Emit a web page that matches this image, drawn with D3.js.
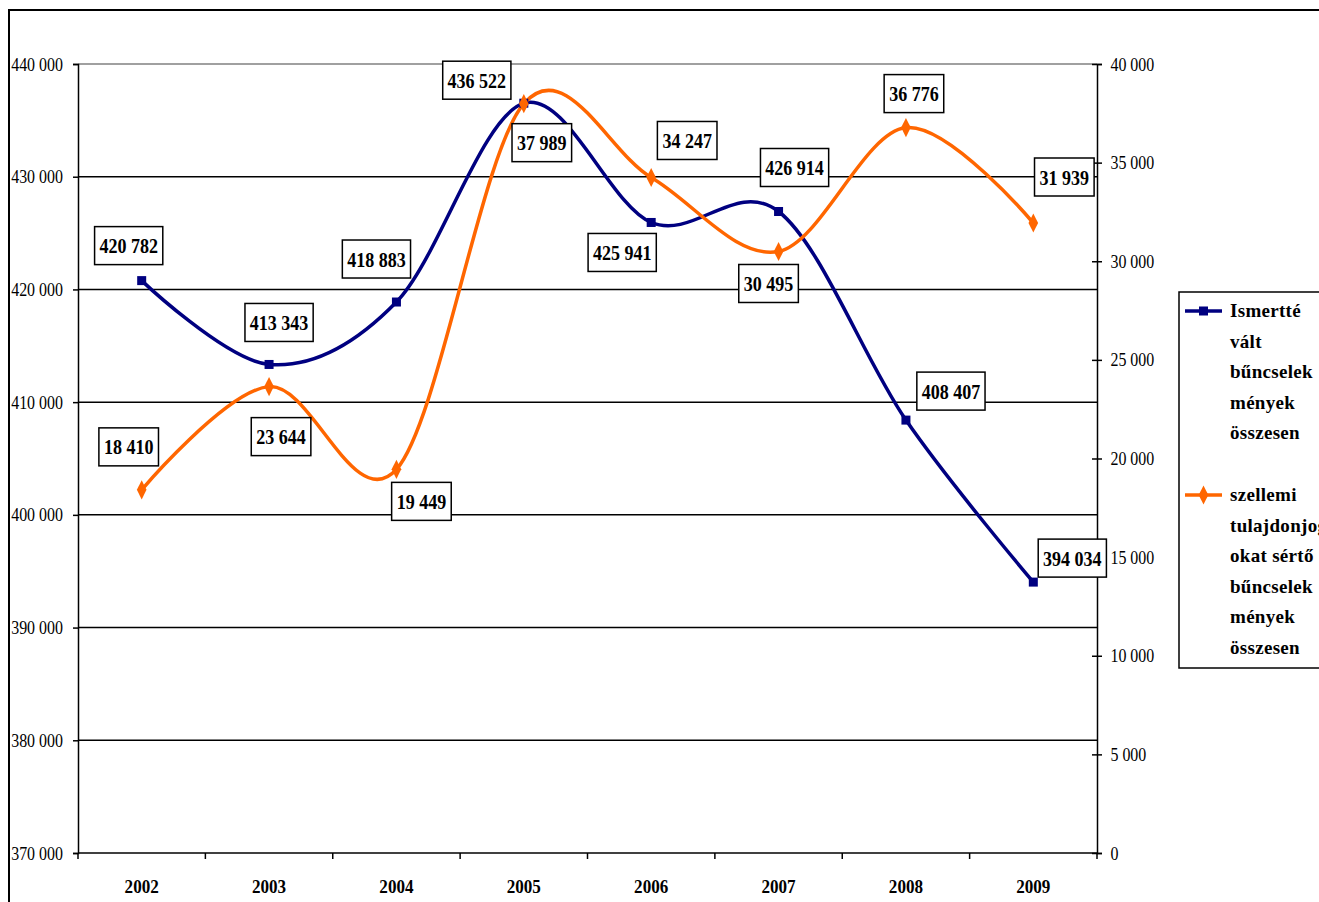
<!DOCTYPE html>
<html><head><meta charset="utf-8">
<script src="https://cdn.jsdelivr.net/npm/d3@7"></script>
<style>body{margin:0;background:#fff}svg{display:block}</style>
</head><body>
<svg id="c" width="1319" height="902"></svg>
<script>
const years = ["2002","2003","2004","2005","2006","2007","2008","2009"];
const totalCrimes = [420782, 413343, 418883, 436522, 425941, 426914, 408407, 394034];
const ipCrimes = [18410, 23644, 19449, 37989, 34247, 30495, 36776, 31939];
const leftTicks = [370000, 380000, 390000, 400000, 410000, 420000, 430000, 440000];
const rightTicks = [0, 5000, 10000, 15000, 20000, 25000, 30000, 35000, 40000];
const seriesNames = [
  ["Ismertté","vált","bűncselek","mények","összesen"],
  ["szellemi","tulajdonjog","okat sértő","bűncselek","mények","összesen"]
];
// label offsets (layout)
const totalLabelOff = [[-13,-35],[10,-42],[-20,-43],[-47,-23],[-29,30],[16,-44],[45,-29],[39,-24]];
const ipLabelOff = [[-13,-43],[12,50],[25,32],[18,39],[36,-37],[-10,32],[8,-34],[31,-46]];

const fmt = v => d3.format(",")(v).replace(/,/g, " ");
const svg = d3.select("#c");
const L = 78, R = 1097, T = 64, B = 853;
const x = d3.scaleBand().domain(years).range([L, R]);
const yL = d3.scaleLinear().domain([370000, 440000]).range([B, T]);
const yR = d3.scaleLinear().domain([0, 40000]).range([B, T]);
const blue = "#000080", orange = "#FF6600";

// outer frame
svg.append("path").attr("d", `M9,902 V10 H1319`).attr("fill","none").attr("stroke","#000").attr("stroke-width",2);

// gridlines
svg.append("g").selectAll("line").data(leftTicks.filter(d => d > 370000)).join("line")
  .attr("x1", L).attr("x2", R).attr("y1", d => yL(d)).attr("y2", d => yL(d))
  .attr("stroke", d => d === 440000 ? "#808080" : "#000").attr("stroke-width", 1.5);

const axisFont = g => g.selectAll("text").attr("font-family","'Liberation Serif','Times New Roman',serif")
  .attr("font-size", 19).attr("fill","#000");

// left axis
const gL = svg.append("g").attr("transform", `translate(${L},0)`)
  .call(d3.axisLeft(yL).tickValues(leftTicks).tickFormat(fmt).tickSize(5).tickPadding(4));
gL.select(".domain").attr("stroke","#000").attr("stroke-width",1.5);
gL.selectAll(".tick line").attr("stroke","#000").attr("stroke-width",1.5);
gL.call(axisFont);
gL.selectAll("text").attr("transform", "translate(-15,0) scale(0.84,1)").attr("x", 0);

// right axis
const gR = svg.append("g").attr("transform", `translate(${R},0)`)
  .call(d3.axisRight(yR).tickValues(rightTicks).tickFormat(fmt).tickSize(5).tickPadding(8));
gR.select(".domain").attr("stroke","#000").attr("stroke-width",1.5);
gR.selectAll(".tick line").attr("x1",-5).attr("stroke","#000").attr("stroke-width",1.5);
gR.call(axisFont);
gR.selectAll("text").attr("transform","scale(0.84,1)").attr("x", 16);

// x axis
const gX = svg.append("g").attr("transform", `translate(0,${B})`);
gX.append("line").attr("x1",L).attr("x2",R).attr("stroke","#000").attr("stroke-width",1.5);
gX.selectAll("line.t").data(d3.range(years.length+1)).join("line").attr("class","t")
  .attr("x1", i => L + i*x.step()).attr("x2", i => L + i*x.step()).attr("y1",0).attr("y2",6)
  .attr("stroke","#000").attr("stroke-width",1.5);
gX.selectAll("text").data(years).join("text")
  .attr("transform", d => `translate(${x(d)+x.bandwidth()/2},40) scale(0.9,1)`)
  .attr("text-anchor","middle").attr("font-family","'Liberation Serif',serif").attr("font-weight","bold")
  .attr("font-size",19).text(d => d);

const cx = d => x(d) + x.bandwidth()/2;
const curve = d3.curveCardinal.tension(0);

// lines
const lineL = d3.line().x((d,i) => cx(years[i])).y(d => yL(d)).curve(curve);
const lineR = d3.line().x((d,i) => cx(years[i])).y(d => yR(d)).curve(curve);
svg.append("path").attr("d", lineL(totalCrimes)).attr("fill","none").attr("stroke",blue).attr("stroke-width",3.5);
svg.append("path").attr("d", lineR(ipCrimes)).attr("fill","none").attr("stroke",orange).attr("stroke-width",3.5);

// markers
svg.append("g").selectAll("rect").data(totalCrimes).join("rect")
  .attr("x",(d,i)=>cx(years[i])-4.5).attr("y",d=>yL(d)-4.5).attr("width",9).attr("height",9).attr("fill",blue);
svg.append("g").selectAll("path").data(ipCrimes).join("path")
  .attr("d", d3.symbol(d3.symbolDiamond, 80))
  .attr("transform",(d,i)=>`translate(${cx(years[i])},${yR(d)}) scale(1,1.15)`).attr("fill",orange);

// data labels
function labels(vals, yS, offs){
  const g = svg.append("g");
  vals.forEach((v,i) => {
    const px = cx(years[i]) + offs[i][0], py = yS(v) + offs[i][1];
    const t = fmt(v);
    const w = t.length * 8.6 + 8, h = 38;
    g.append("rect").attr("x", px - w/2).attr("y", py - h/2).attr("width", w).attr("height", h)
      .attr("fill","#fff").attr("stroke","#000").attr("stroke-width",1.5);
    g.append("text").attr("transform",`translate(${px},${py+7.5}) scale(0.82,1)`).attr("text-anchor","middle")
      .attr("font-family","'Liberation Serif',serif").attr("font-weight","bold").attr("font-size",22).text(t);
  });
}
labels(totalCrimes, yL, totalLabelOff);
labels(ipCrimes, yR, ipLabelOff);

// legend
const lg = svg.append("g");
lg.append("rect").attr("x",1179).attr("y",292).attr("width",160).attr("height",376)
  .attr("fill","#fff").attr("stroke","#000").attr("stroke-width",1.5);
const legendStart = [317, 501];
[blue, orange].forEach((c, si) => {
  const y0 = legendStart[si];
  lg.append("line").attr("x1",1185).attr("x2",1222).attr("y1",y0-6).attr("y2",y0-6).attr("stroke",c).attr("stroke-width",3.5);
  if (si===0) lg.append("rect").attr("x",1199).attr("y",y0-10.5).attr("width",9).attr("height",9).attr("fill",c);
  else lg.append("path").attr("d", d3.symbol(d3.symbolDiamond,80)).attr("transform",`translate(1203.5,${y0-6}) scale(1,1.15)`).attr("fill",c);
  seriesNames[si].forEach((s, li) => {
    lg.append("text").attr("x",1230).attr("y", y0 + li*30.5).attr("font-family","'Liberation Serif',serif")
      .attr("font-weight","bold").attr("font-size",19).attr("letter-spacing",0.3).text(s);
  });
});
</script>
</body></html>
